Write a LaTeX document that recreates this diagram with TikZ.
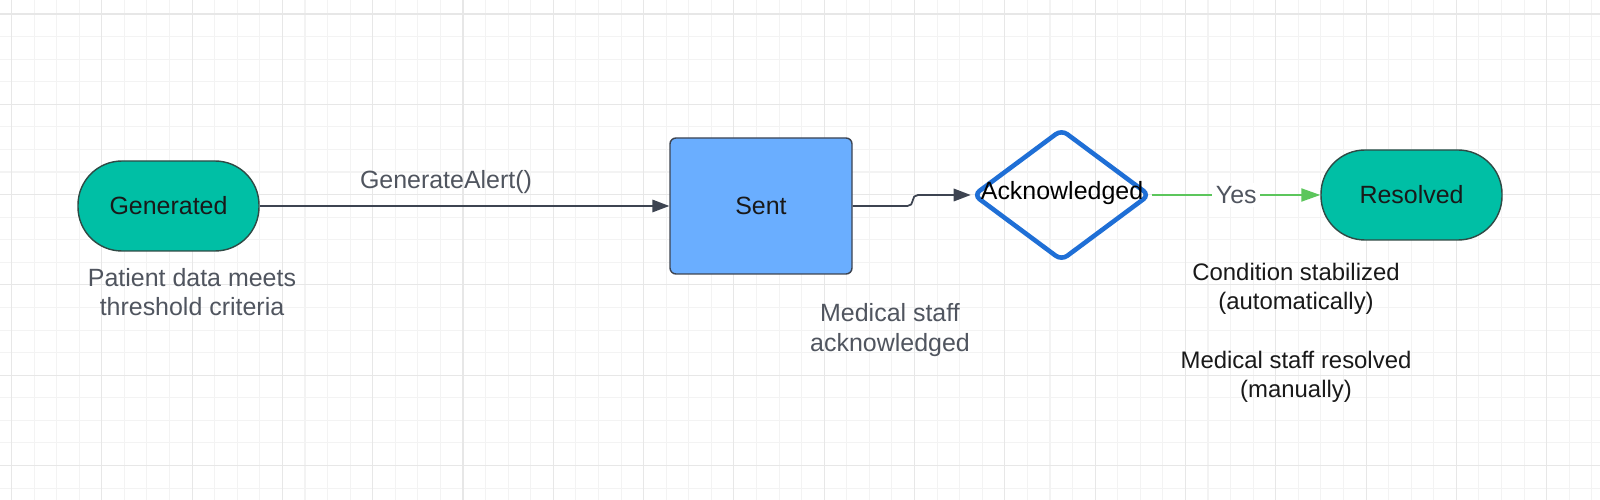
\documentclass[tikz,border=0pt]{standalone}
\usepackage{fontspec}
\setmainfont{Liberation Sans}
\usetikzlibrary{positioning,calc,arrows.meta,shapes.geometric}
\tikzset{font=\fontsize{7.1}{8.3}\selectfont}

\definecolor{gridminor}{HTML}{F3F3F3}
\definecolor{gridmajor}{HTML}{E7E7E7}
\definecolor{termfill}{HTML}{00BFA5}
\definecolor{termline}{HTML}{2F4A45}
\definecolor{sentfill}{HTML}{6AAEFF}
\definecolor{linegray}{HTML}{3D4451}
\definecolor{notegray}{HTML}{50555F}
\definecolor{ackblue}{HTML}{1F6FD6}
\definecolor{yesgreen}{HTML}{5CC65C}

\begin{document}
\begin{tikzpicture}
	\path[use as bounding box, fill=white] (0,0) rectangle (16,-5);
	% background grid
	\foreach \k in {0,...,70}
		\draw[gridminor, line width=0.3pt] ({0.115+\k*0.22575},0) -- ({0.115+\k*0.22575},-5);
	\foreach \k in {0,...,21}
		\draw[gridminor, line width=0.3pt] (0,{-0.14-\k*0.22575}) -- (16,{-0.14-\k*0.22575});
	\foreach \k in {0,4,...,68}
		\draw[gridmajor, line width=0.3pt] ({0.115+\k*0.22575},0) -- ({0.115+\k*0.22575},-5);
	\foreach \k in {0,4,...,20}
		\draw[gridmajor, line width=0.3pt] (0,{-0.14-\k*0.22575}) -- (16,{-0.14-\k*0.22575});

	\begin{scope}
		\tikzstyle{every node}=[align=center, inner sep=1pt]
		\tikzstyle{term}=[draw=termline, line width=0.4pt, fill=termfill, rounded corners=0.44cm, minimum width=1.81cm, minimum height=0.9cm, text=black!90]
		\tikzstyle{sentbox}=[draw=linegray, line width=0.4pt, fill=sentfill, rounded corners=0.06cm, minimum width=1.82cm, minimum height=1.36cm, text=black!90]
		\tikzstyle{decision}=[diamond, draw=ackblue, line width=1.3pt, rounded corners=2pt, minimum width=1.77cm, minimum height=1.32cm, inner sep=0pt]
		\tikzstyle{note}=[text=notegray]
		\tikzstyle{smallnote}=[font=\fontsize{6.8}{8.3}\selectfont, text=black!90]
		\tikzstyle{flow}=[draw=linegray, line width=0.5pt, -{Triangle[length=1.7mm, width=1.25mm]}]
		\tikzstyle{yesflow}=[draw=yesgreen, line width=0.6pt, -{Triangle[length=1.9mm, width=1.3mm]}]

		\node[term] (gen) at (1.685, -2.06) {Generated};
		\node[sentbox] (sent) at (7.61, -2.06) {Sent};
		\node[decision] (ack) at (10.615, -1.95) {};
		\node (acktxt) at (10.62, -1.93) {Acknowledged};
		\node[term] (res) at (14.115, -1.95) {Resolved};

		\node[note] (alertlbl) at (4.46, -1.82) {GenerateAlert()};
		\node[note] (patient) at (1.92, -2.92) {Patient data meets\\threshold criteria};
		\node[note] (staffack) at (8.90, -3.30) {Medical staff\\acknowledged};
		\node[smallnote] (stable) at (12.96, -2.885) {Condition stabilized\\(automatically)};
		\node[smallnote] (manual) at (12.96, -3.765) {Medical staff resolved\\(manually)};

		\draw[flow] (gen) to (sent);
		\draw[flow, rounded corners=1.5pt] (sent.east) -- ++(0.6,0) |- (ack.west);
		\draw[yesflow] (ack.east) -- node[note, fill=white] (yes) {Yes} (res.west);
	\end{scope}
\end{tikzpicture}
\end{document}
